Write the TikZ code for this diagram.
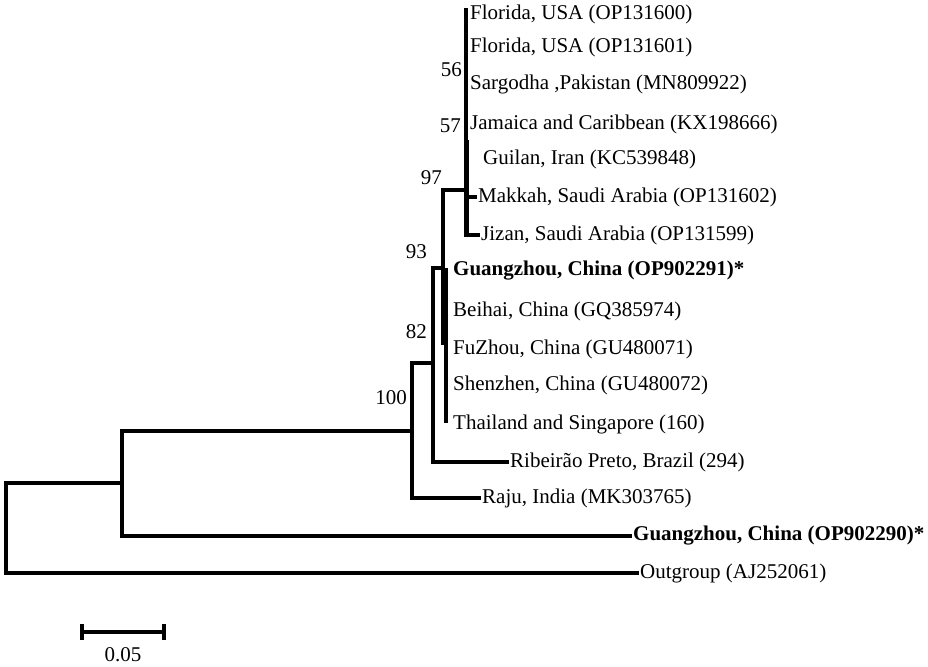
\documentclass[tikz,border=0pt]{standalone}
\usepackage{fontspec}
\setmainfont{Liberation Serif}
\begin{document}
\begin{tikzpicture}[x=1pt,y=-1pt,
  br/.style={line width=3.6pt, line join=miter},
  leaf/.style={anchor=west, inner sep=1pt, font=\fontsize{21}{25}\selectfont},
  bleaf/.style={leaf, font=\fontsize{21}{25}\selectfont\bfseries},
  bs/.style={anchor=east, inner sep=0pt, font=\fontsize{21}{25}\selectfont}]
\useasboundingbox (0,0) rectangle (928,666);
% leaves
\node[leaf] (fl1) at (469,14) {Florida, USA (OP131600)};
\node[leaf] (fl2) at (469,47) {Florida, USA (OP131601)};
\node[leaf] (sar) at (469,84) {Sargodha ,Pakistan (MN809922)};
\node[leaf] (jam) at (469,124) {Jamaica and Caribbean (KX198666)};
\node[leaf] (gui) at (482,159) {Guilan, Iran (KC539848)};
\node[leaf] (mak) at (477,197) {Makkah, Saudi Arabia (OP131602)};
\node[leaf] (jiz) at (480,235) {Jizan, Saudi Arabia (OP131599)};
\node[bleaf] (gz1) at (452,271) {Guangzhou, China (OP902291)*};
\node[leaf] (bei) at (452,311) {Beihai, China (GQ385974)};
\node[leaf] (fuz) at (452,349) {FuZhou, China (GU480071)};
\node[leaf] (she) at (452,385) {Shenzhen, China (GU480072)};
\node[leaf] (tha) at (452,424) {Thailand and Singapore (160)};
\node[leaf] (rib) at (509,462) {Ribeirão Preto, Brazil (294)};
\node[leaf] (raj) at (481,498) {Raju, India (MK303765)};
\node[bleaf] (gz2) at (632,536) {Guangzhou, China (OP902290)*};
\node[leaf] (out) at (639,573) {Outgroup (AJ252061)};
% internal nodes
\coordinate (r) at (6,483);
\coordinate (n1) at (122,483);
\coordinate (n100) at (412,431);
\coordinate (n82) at (433,363);
\coordinate (n93) at (443,268);
\coordinate (n93b) at (443,345);
\coordinate (c1) at (446,268);
\coordinate (c2) at (446,423);
\coordinate (n97) at (466,190);
\coordinate (top) at (466,8);
\coordinate (d1) at (467.5,140);
\coordinate (d2) at (467.5,235);
\coordinate (mk) at (466,197);
% branches
\draw[br] (n1) -- (r) |- (out.west);
\draw[br] (n1) |- (n100);
\draw[br] (n1) |- (gz2.west);
\draw[br] (n100) |- (n82);
\draw[br] (n100) |- (raj.west);
\draw[br] (n82) |- (n93);
\draw[br] (n82) |- (rib.west);
\draw[br] (n93) |- (n97);
\draw[br] (n93) -- (n93b);
\draw[br] (c1) -- (c2);
\draw[br] (n97) -- (top);
\draw[br] (n97) |- (jiz.west);
\draw[br] (d1) -- (d2);
\draw[br] (mk) -- (mak.west);
% bootstrap values
\node[bs] (b56) at (462,70) {56};
\node[bs] (b57) at (461,126) {57};
\node[bs] (b97) at (442,178) {97};
\node[bs] (b93) at (427,252) {93};
\node[bs] (b82) at (427,332) {82};
\node[bs] (b100) at (407,398) {100};
% scale bar
\coordinate (s1) at (82,632);
\coordinate (s2) at (164,632);
\draw[line width=3.5pt] (s1) -- (s2);
\draw[line width=3.5pt] ([yshift=-8pt]s1) -- ([yshift=8pt]s1);
\draw[line width=3.5pt] ([yshift=-8pt]s2) -- ([yshift=8pt]s2);
\node[font=\fontsize{21}{25}\selectfont, inner sep=0pt] (sl) at (123,655) {0.05};
\end{tikzpicture}
\end{document}
